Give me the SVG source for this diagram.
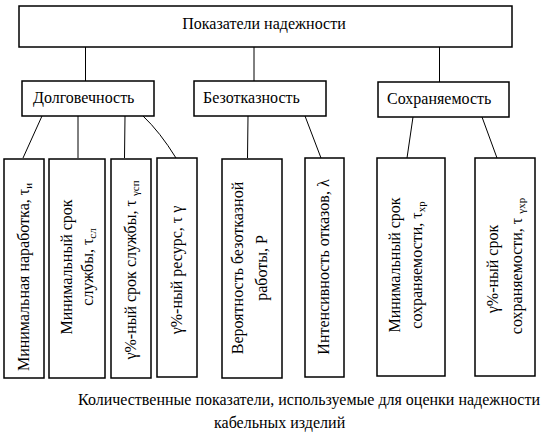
<svg xmlns="http://www.w3.org/2000/svg" width="545" height="446" viewBox="0 0 545 446" font-family="'Liberation Serif', 'DejaVu Serif', serif">
<style>
.box{fill:#fff;stroke:#000;stroke-width:1.5}
.ln{stroke:#000;stroke-width:1;fill:none}
text{font-family:'Liberation Serif','DejaVu Serif',serif;font-size:16px;fill:#000}
.m{text-anchor:middle}
.sub{font-size:11px}
</style>
<rect width="545" height="446" fill="#fff"/>
<g id="connectors">
<line class="ln" x1="85.5" y1="47" x2="85.5" y2="81"/>
<line class="ln" x1="254" y1="47" x2="254" y2="81"/>
<line class="ln" x1="439.5" y1="47" x2="439.5" y2="82"/>
<line class="ln" x1="42" y1="116" x2="23" y2="158"/>
<line class="ln" x1="78" y1="116" x2="78" y2="158"/>
<line class="ln" x1="125" y1="116" x2="124.5" y2="158"/>
<path class="ln" d="M143,116 Q160,132 176,158"/>
<line class="ln" x1="248" y1="116" x2="247.5" y2="158"/>
<line class="ln" x1="305" y1="116" x2="321" y2="158"/>
<line class="ln" x1="413" y1="117" x2="407" y2="158"/>
<line class="ln" x1="482" y1="117" x2="497" y2="158"/>
</g>
<g id="root">
<rect class="box" x="19" y="6" width="493" height="41"/>
<text class="m" x="264" y="29">Показатели надежности</text>
</g>
<g id="dolg">
<rect class="box" x="22" y="81" width="132" height="35"/>
<text x="33" y="103">Долговечность</text>
</g>
<g id="bezotk">
<rect class="box" x="194" y="81" width="132" height="35"/>
<text x="203" y="103">Безотказность</text>
</g>
<g id="sohr">
<rect class="box" x="378" y="82" width="131" height="35"/>
<text x="387" y="104">Сохраняемость</text>
</g>
<g id="n1">
<rect class="box" x="4" y="159" width="40" height="219"/>
<text class="m" transform="translate(29,277) rotate(-90)">Минимальная наработка, τ<tspan class="sub" dy="3">и</tspan></text>
</g>
<g id="n2">
<rect class="box" x="49" y="159" width="56" height="219"/>
<text class="m" transform="translate(72,267) rotate(-90)">Минимальный срок</text>
<text class="m" transform="translate(93,267) rotate(-90)">службы, τ<tspan class="sub" dy="3">сл</tspan></text>
</g>
<g id="n3">
<rect class="box" x="111" y="159" width="40" height="219"/>
<text class="m" transform="translate(136,270) rotate(-90)">γ%-ный срок службы, τ <tspan class="sub" dy="3">γсп</tspan></text>
</g>
<g id="n4">
<rect class="box" x="157" y="158" width="40" height="219"/>
<text class="m" transform="translate(182,270) rotate(-90)">γ%-ный ресурс, τ γ</text>
</g>
<g id="n5">
<rect class="box" x="222" y="159" width="60" height="219"/>
<text class="m" transform="translate(243,268) rotate(-90)">Вероятность безотказной</text>
<text class="m" transform="translate(267,268) rotate(-90)">работы, Р</text>
</g>
<g id="n6">
<rect class="box" x="305" y="158" width="39" height="219"/>
<text class="m" transform="translate(329,267) rotate(-90)">Интенсивность отказов, λ</text>
</g>
<g id="n7">
<rect class="box" x="377" y="158" width="68" height="218"/>
<text class="m" transform="translate(400,265) rotate(-90)">Минимальный срок</text>
<text class="m" transform="translate(422,265) rotate(-90)">сохраняемости, τ<tspan class="sub" dy="3">хр</tspan></text>
</g>
<g id="n8">
<rect class="box" x="475" y="158" width="60" height="218"/>
<text class="m" transform="translate(498,269) rotate(-90)">γ%-ный срок</text>
<text class="m" transform="translate(522,266) rotate(-90)">сохраняемости, τ <tspan class="sub" dy="3">γхр</tspan></text>
</g>
<g id="caption">
<text x="78" y="405">Количественные показатели, используемые для оценки надежности</text>
<text x="214" y="428">кабельных изделий</text>
</g>
</svg>
